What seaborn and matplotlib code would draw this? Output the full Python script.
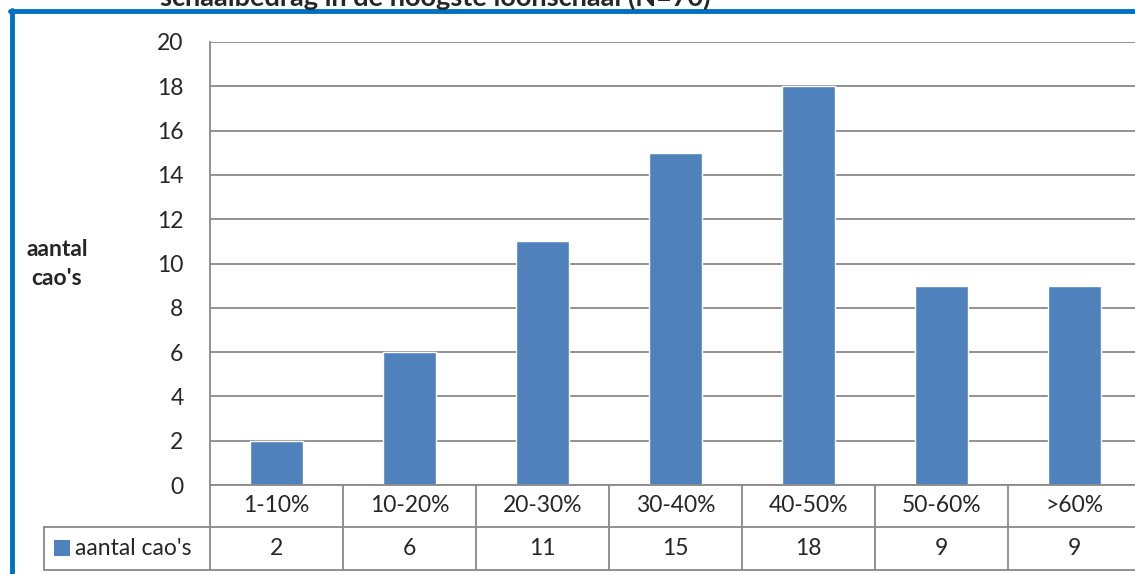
import matplotlib.pyplot as plt
import seaborn as sns
import pandas as pd

categories = ['1-10%', '10-20%', '20-30%', '30-40%', '40-50%', '50-60%', '>60%']
counts = [2, 6, 11, 15, 18, 9, 9]
series_name = "aantal cao's"
title = 'schaalbedrag in de hoogste loonschaal (N=70)'

W, H = 1135, 574
bar_color = '#4F81BD'
line_gray = '#898989'
frame_blue = '#0070C0'
fs = 16.5


def fx(px):
    return px / W


def fy(py):
    return 1 - py / H


sns.set_style('white')
plt.rcParams['font.family'] = ['Lato', 'DejaVu Sans']

df = pd.DataFrame({'categorie': categories, 'aantal': counts})

fig = plt.figure(figsize=(W / 100, H / 100), dpi=100)
ax = fig.add_axes([fx(210), fy(485), fx(1141) - fx(210), fy(42) - fy(485)])

sns.barplot(data=df, x='categorie', y='aantal', color=bar_color,
            width=0.4, saturation=1, ax=ax, zorder=3)

ax.set_ylim(0, 20)
ax.set_xlim(-0.5, len(categories) - 0.5)
ax.set_yticks(range(0, 21, 2))
ax.tick_params(axis='y', length=0, pad=19, labelsize=fs)
ax.set_xticks([])
ax.set_xlabel('')
ax.set_ylabel('')
ax.yaxis.grid(True, color=line_gray, linewidth=1.3, zorder=0)
for side in ['top', 'right', 'bottom']:
    ax.spines[side].set_visible(False)
ax.spines['left'].set_color(line_gray)
ax.spines['left'].set_linewidth(1.3)

fig.text(fx(57), fy(264), "aantal\ncao's", ha='center', va='center',
         fontsize=fs, fontweight='bold', linespacing=1.45)

# data table under the axis
row1_top, row1_bot, row2_bot = fy(485), fy(527), fy(570)
fig.add_artist(plt.Line2D([fx(210), 1], [row1_top, row1_top], color=line_gray, lw=1.3))
fig.add_artist(plt.Line2D([fx(44), 1], [row1_bot, row1_bot], color=line_gray, lw=1.3))
fig.add_artist(plt.Line2D([fx(44), 1], [row2_bot, row2_bot], color=line_gray, lw=1.3))
fig.add_artist(plt.Line2D([fx(44), fx(44)], [row1_bot, row2_bot], color=line_gray, lw=1.3))

x_edges = [ax.transData.transform((i - 0.5, 0))[0] / W for i in range(len(categories) + 1)]
for xe in x_edges:
    fig.add_artist(plt.Line2D([xe, xe], [row1_top, row2_bot], color=line_gray, lw=1.3))

for i, (cat, val) in enumerate(zip(categories, counts)):
    xc = ax.transData.transform((i, 0))[0] / W
    fig.text(xc, (row1_top + row1_bot) / 2, cat, ha='center', va='center', fontsize=fs)
    fig.text(xc, (row1_bot + row2_bot) / 2, str(val), ha='center', va='center', fontsize=fs)

fig.add_artist(plt.Rectangle((fx(54), fy(556)), fx(16), fy(541) - fy(557),
                             facecolor=bar_color, edgecolor='none'))
fig.text(fx(75), (row1_bot + row2_bot) / 2, series_name, ha='left', va='center', fontsize=fs)

# blue frame and cut-off title
fig.add_artist(plt.Line2D([fx(11.5), fx(11.5)], [fy(10), 0], color=frame_blue, lw=3.5))
fig.add_artist(plt.Line2D([fx(10), 1], [fy(10.5), fy(10.5)], color=frame_blue, lw=3.5))
fig.text(fx(160), fy(6), title, ha='left', va='baseline', fontsize=19.5, fontweight='bold')

fig.savefig('out.png', dpi=100)
